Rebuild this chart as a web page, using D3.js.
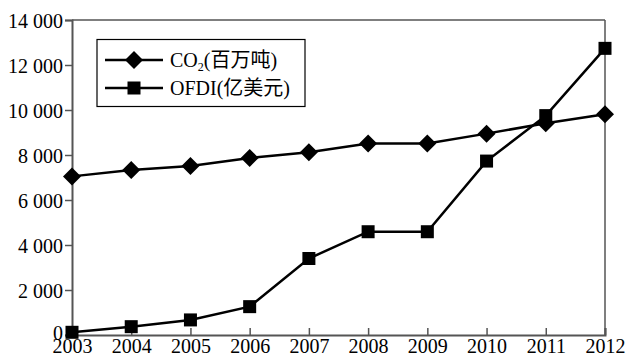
<!DOCTYPE html>
<html><head><meta charset="utf-8">
<script src="https://cdn.jsdelivr.net/npm/d3@7"></script>
<style>body{margin:0;background:#fff}svg{display:block}text{font-family:"Liberation Serif","Times New Roman","Noto Sans CJK SC",serif;fill:#000}</style>
</head><body>
<script>
const years = [2003,2004,2005,2006,2007,2008,2009,2010,2011,2012];
const co2 = [7050,7330,7510,7870,8120,8510,8510,8950,9410,9810];
const ofdi = [120,370,670,1260,3400,4590,4590,7730,9750,12740];
const yTicks = [0,2000,4000,6000,8000,10000,12000,14000];
const yTickLabels = ["0","2 000","4 000","6 000","8 000","10 000","12 000","14 000"];

const W=627,H=357;
const svg=d3.select("body").append("svg").attr("width",W).attr("height",H);
const x=d3.scalePoint().domain(years).range([72,605]);
const y=d3.scaleLinear().domain([0,14000]).range([335,20]);
const axisColor="#555";

// frame top & right
svg.append("line").attr("x1",72).attr("x2",605).attr("y1",y(14000)).attr("y2",y(14000)).attr("stroke",axisColor).attr("stroke-width",1.5);
svg.append("line").attr("x1",605).attr("x2",605).attr("y1",y(14000)).attr("y2",y(0)).attr("stroke",axisColor).attr("stroke-width",1.5);

const yAxis=svg.append("g").attr("transform","translate(72,0)")
  .call(d3.axisLeft(y).tickValues(yTicks).tickFormat((d,i)=>yTickLabels[i]).tickSize(7).tickPadding(2));
const xAxis=svg.append("g").attr("transform","translate(0,335)")
  .call(d3.axisBottom(x).tickSize(-7).tickPadding(5));
[yAxis,xAxis].forEach(g=>{
  g.select(".domain").attr("stroke",axisColor).attr("stroke-width",2);
  g.selectAll(".tick line").attr("stroke",axisColor).attr("stroke-width",1.5);
  g.selectAll("text").style("font-size","20px").attr("fill","#000");
});
yAxis.selectAll("text").attr("dy","0.35em").attr("y",d=>d===0?-3:0);
xAxis.selectAll("text").attr("dy","0.71em").attr("y",4);

const line=d3.line().x((d,i)=>x(years[i])).y(d=>y(d));
svg.append("path").datum(co2).attr("d",line).attr("fill","none").attr("stroke","#000").attr("stroke-width",2.5);
svg.append("path").datum(ofdi).attr("d",line).attr("fill","none").attr("stroke","#000").attr("stroke-width",2.5);

const diamond=(cx,cy,r)=>`M${cx},${cy-r}L${cx+r},${cy}L${cx},${cy+r}L${cx-r},${cy}Z`;
svg.append("g").selectAll("path").data(co2).join("path")
  .attr("d",(d,i)=>diamond(x(years[i]),y(d),9)).attr("fill","#000");
const s=13;
svg.append("g").selectAll("rect").data(ofdi).join("rect")
  .attr("x",(d,i)=>x(years[i])-s/2).attr("y",d=>y(d)-s/2).attr("width",s).attr("height",s).attr("fill","#000");

// legend
const lg=svg.append("g");
lg.append("rect").attr("x",97).attr("y",39.5).attr("width",208).attr("height",67).attr("fill","#fff").attr("stroke","#000").attr("stroke-width",1.2);
lg.append("line").attr("x1",105).attr("x2",163).attr("y1",60).attr("y2",60).attr("stroke","#000").attr("stroke-width",2.5);
lg.append("path").attr("d",diamond(134,60,9)).attr("fill","#000");
lg.append("line").attr("x1",105).attr("x2",163).attr("y1",88).attr("y2",88).attr("stroke","#000").attr("stroke-width",2.5);
lg.append("rect").attr("x",134-s/2).attr("y",88-s/2).attr("width",s).attr("height",s).attr("fill","#000");
const t1=lg.append("text").attr("x",170).attr("y",67).style("font-size","20px");
t1.append("tspan").text("CO");
t1.append("tspan").text("2").style("font-size","12px").attr("dy",4);
t1.append("tspan").text("(百万吨)").attr("dy",-4);
lg.append("text").attr("x",170).attr("y",95).style("font-size","20px").text("OFDI(亿美元)");
</script>
</body></html>
